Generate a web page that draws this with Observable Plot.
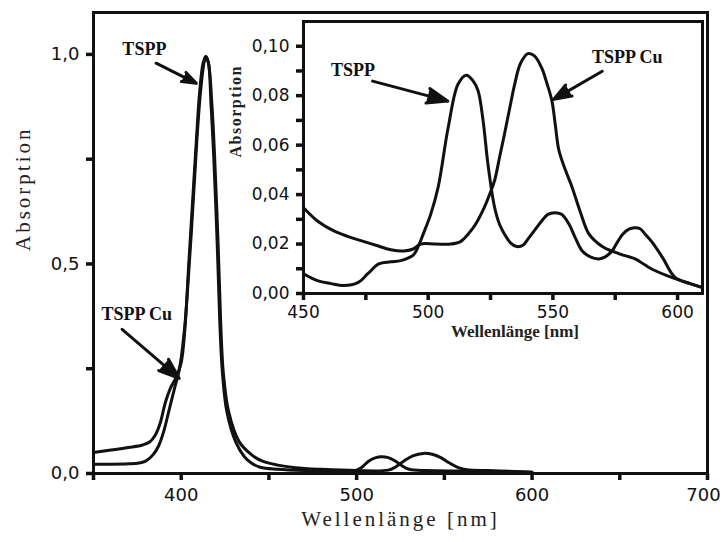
<!DOCTYPE html>
<html><head><meta charset="utf-8">
<script src="https://cdn.jsdelivr.net/npm/d3@7"></script>
<script src="https://cdn.jsdelivr.net/npm/@observablehq/plot@0.6"></script>
<style>
body{margin:0;background:#fff}
#wrap{position:relative;width:723px;height:542px;overflow:hidden}
#main{position:absolute;left:0;top:0}
#inset{position:absolute;left:215px;top:8px}
</style></head>
<body><div id="wrap"><div id="main"></div><div id="inset"></div></div>
<script>
// ---------- Main chart data ----------
const tsppMainNm  = [350,360,370,376,380,384,387,390,393,396,399,402,404.6,407,409,411,413,414,415.5,417,418.5,420.5,422,423.5,426,431,436,440,445,455,470,490,500,503,507,511,514,518,522,526,530,540,560,580,600];
const tsppMainAbs = [0.022,0.022,0.023,0.025,0.03,0.045,0.065,0.1,0.15,0.2,0.25,0.35,0.5,0.66,0.8,0.91,0.98,0.995,0.98,0.88,0.76,0.55,0.36,0.24,0.148,0.076,0.04,0.025,0.015,0.01,0.007,0.006,0.008,0.015,0.03,0.038,0.04,0.038,0.03,0.018,0.01,0.007,0.006,0.005,0.003];
const cuMainNm    = [350,360,370,378,382,385,388,391,394,397,400,402,404.3,406.5,408.7,410.5,412.5,414,415.5,417.5,419,421,422.5,424,427,433,440,446,455,465,480,500,518,522,527,532,538,543,548,553,558,563,575,590,600];
const cuMainAbs   = [0.05,0.056,0.062,0.068,0.075,0.09,0.12,0.17,0.205,0.228,0.265,0.34,0.5,0.65,0.8,0.91,0.98,0.995,0.98,0.88,0.76,0.55,0.36,0.24,0.148,0.076,0.045,0.03,0.02,0.014,0.01,0.007,0.008,0.015,0.03,0.042,0.048,0.046,0.038,0.025,0.014,0.009,0.007,0.005,0.003];
const mainXTicks = [350,400,450,500,550,600,650,700];
const mainXLabelTicks = [400,500,600];
const mainXLastTick = [700];
const mainYTicks = [0,0.25,0.5,0.75,1.0];
const mainYLabelTicks = [0,0.5,1.0];
const mainYLabels = ["0,0","0,5","1,0"];
const mainNoteText = ["TSPP","TSPP Cu"];
const mainNoteNm   = [379,374.6];
const mainNoteAbs  = [1.012,0.379];
const mainArrowFromNm  = [385.7,366.3];
const mainArrowFromAbs = [0.979,0.344];
const mainArrowToNm    = [408.6,398.9];
const mainArrowToAbs   = [0.931,0.227];

// ---------- Inset data ----------
const tsppInsetNm  = [450,455.6,461,466,471.8,475.8,480.2,485,489,494,496,498,501,504,508,512,515.3,518,520,522,524,526.6,528.6,530.6,533,535.5,538,540,543,545.6,548,550.8,553.5,556.5,559,561.7,565,568.5,571,573.8,576,578,580.5,582.7,585,587,590,594,599,605,610];
const tsppInsetAbs = [0.008,0.0052,0.004,0.0032,0.0044,0.008,0.012,0.0128,0.0133,0.0155,0.019,0.024,0.032,0.043,0.067,0.0847,0.0883,0.086,0.082,0.07,0.052,0.035,0.028,0.024,0.0205,0.019,0.0195,0.022,0.026,0.0294,0.032,0.0327,0.032,0.028,0.0225,0.0173,0.0148,0.014,0.0148,0.0173,0.021,0.024,0.026,0.0266,0.0262,0.024,0.0205,0.0145,0.0065,0.004,0.0024];
const cuInsetNm  = [450,456,462,468,473,479,485,490,494,497,503,509,513,516,519,522.6,524.6,526.6,528.6,530.6,532.7,534.7,537,540,542.7,545.6,547.6,549.6,551,552.4,555,557.7,561,564.5,569.8,574,579,583,587,590,595,599,605,610];
const cuInsetAbs = [0.0347,0.029,0.0254,0.023,0.0214,0.0195,0.0177,0.0172,0.018,0.02,0.02,0.02,0.021,0.024,0.028,0.035,0.04,0.0456,0.055,0.0645,0.075,0.0847,0.093,0.097,0.096,0.091,0.085,0.078,0.068,0.058,0.05,0.043,0.033,0.024,0.019,0.017,0.0153,0.014,0.0115,0.0097,0.0075,0.006,0.004,0.0024];
const insetXTicks = [450,475,500,525,550,575,600];
const insetXLabelTicks = [450,500,550,600];
const insetYTicks = [0,0.01,0.02,0.03,0.04,0.05,0.06,0.07,0.08,0.09,0.10];
const insetYLabelTicks = [0,0.02,0.04,0.06,0.08,0.10];
const insetYLabels = ["0,00","0,02","0,04","0,06","0,08","0,10"];
const insetNoteText = ["TSPP","TSPP Cu"];
const insetNoteNm   = [469.8,579.8];
const insetNoteAbs  = [0.0901,0.0956];
const insetArrowFromNm  = [477.7,569.8];
const insetArrowFromAbs = [0.0859,0.0899];
const insetArrowToNm    = [507.9,550.3];
const insetArrowToAbs   = [0.0778,0.0785];

const zip = (xs, ys) => xs.map((x, i) => ({x, y: ys[i]}));
const notes = (t, xs, ys) => t.map((s, i) => ({text: s, x: xs[i], y: ys[i]}));
const arrows = (x1, y1, x2, y2) => x1.map((v, i) => ({x1: v, y1: y1[i], x2: x2[i], y2: y2[i]}));
const INK = "#111";
const TICKFONT = "DejaVu Sans";
const SERIF = "Liberation Serif";
const TICKPX = 7;

// outward tick rules; the pixel length is converted through the plot geometry
function tickRules(xTicks, yTicks, xDomain, yDomain, frameW, frameH) {
  const ty = TICKPX * (yDomain[1] - yDomain[0]) / frameH;
  const tx = TICKPX * (xDomain[1] - xDomain[0]) / frameW;
  return [
    Plot.ruleX(xTicks, {x: d => d, y1: yDomain[0], y2: yDomain[0] - ty, stroke: INK, strokeWidth: 3.5}),
    Plot.ruleY(yTicks, {y: d => d, x1: xDomain[0], x2: xDomain[0] - tx, stroke: INK, strokeWidth: 3.5})
  ];
}

// ---------- Main plot ----------
const mainDomX = [350, 700], mainDomY = [0, 1.1];
const main = Plot.plot({
  width: 723, height: 542,
  marginLeft: 93, marginRight: 16, marginTop: 12, marginBottom: 69,
  x: {domain: mainDomX},
  y: {domain: mainDomY},
  style: {background: "transparent", color: INK},
  marks: [
    Plot.axisX({ticks: mainXLabelTicks, tickSize: 0, tickPadding: 15, fontSize: 18, fontFamily: TICKFONT, label: null, fill: INK}),
    Plot.axisX({ticks: mainXLastTick, tickSize: 0, tickPadding: 15, dx: -4, fontSize: 18, fontFamily: TICKFONT, label: null, fill: INK}),
    Plot.axisY({ticks: mainYLabelTicks, tickFormat: d => mainYLabels[mainYLabelTicks.indexOf(d)], tickSize: 0, tickPadding: 14,
      fontSize: 18, fontFamily: TICKFONT, label: null, fill: INK}),
    ...tickRules(mainXTicks, mainYTicks, mainDomX, mainDomY, 614, 461),
    Plot.line(zip(cuMainNm, cuMainAbs), {x: "x", y: "y", stroke: INK, strokeWidth: 3, curve: "catmull-rom"}),
    Plot.line(zip(tsppMainNm, tsppMainAbs), {x: "x", y: "y", stroke: INK, strokeWidth: 3, curve: "catmull-rom"}),
    Plot.frame({stroke: INK, strokeWidth: 3}),
    Plot.text(notes(mainNoteText, mainNoteNm, mainNoteAbs), {x: "x", y: "y", text: "text", fontFamily: SERIF, fontWeight: "bold", fontSize: 18, fill: INK}),
    Plot.arrow(arrows(mainArrowFromNm, mainArrowFromAbs, mainArrowToNm, mainArrowToAbs), {x1: "x1", y1: "y1", x2: "x2", y2: "y2", stroke: INK, strokeWidth: 3, headAngle: 40, headLength: 11}),
    Plot.text(["Wellenlänge [nm]"], {frameAnchor: "bottom", dy: 52, fontFamily: SERIF, fontSize: 21, fill: "#222"}),
    Plot.text(["Absorption"], {frameAnchor: "left", dx: -70, dy: 8, rotate: -90, fontFamily: SERIF, fontSize: 21, fill: "#222"})
  ]
});
document.getElementById("main").appendChild(main);

// ---------- Inset plot ----------
const insetDomX = [450, 610], insetDomY = [0, 0.11];
const inset = Plot.plot({
  width: 497, height: 340,
  marginLeft: 88, marginRight: 10, marginTop: 13, marginBottom: 55,
  x: {domain: insetDomX},
  y: {domain: insetDomY},
  style: {background: "transparent", color: INK},
  marks: [
    Plot.axisX({ticks: insetXLabelTicks, tickSize: 0, tickPadding: 12, fontSize: 17, fontFamily: TICKFONT, label: null, fill: INK}),
    Plot.axisY({ticks: insetYLabelTicks, tickFormat: d => insetYLabels[insetYLabelTicks.indexOf(d)], tickSize: 0, tickPadding: 14,
      fontSize: 17, fontFamily: TICKFONT, label: null, fill: INK}),
    ...tickRules(insetXTicks, insetYTicks, insetDomX, insetDomY, 399, 272),
    Plot.line(zip(cuInsetNm, cuInsetAbs), {x: "x", y: "y", stroke: INK, strokeWidth: 3, curve: "catmull-rom"}),
    Plot.line(zip(tsppInsetNm, tsppInsetAbs), {x: "x", y: "y", stroke: INK, strokeWidth: 3, curve: "catmull-rom"}),
    Plot.frame({stroke: INK, strokeWidth: 3}),
    Plot.text(notes(insetNoteText, insetNoteNm, insetNoteAbs), {x: "x", y: "y", text: "text", fontFamily: SERIF, fontWeight: "bold", fontSize: 18, fill: INK}),
    Plot.arrow(arrows(insetArrowFromNm, insetArrowFromAbs, insetArrowToNm, insetArrowToAbs), {x1: "x1", y1: "y1", x2: "x2", y2: "y2", stroke: INK, strokeWidth: 3, headAngle: 40, headLength: 11}),
    Plot.text(["Wellenlänge [nm]"], {frameAnchor: "bottom", dx: 12, dy: 43, fontFamily: SERIF, fontWeight: "bold", fontSize: 17, fill: "#222"}),
    Plot.text(["Absorption"], {frameAnchor: "left", dx: -68, rotate: -90, fontFamily: SERIF, fontWeight: "bold", fontSize: 16, fill: "#222"})
  ]
});
document.getElementById("inset").appendChild(inset);

// filled arrowheads and letter spacing
for (const svg of [main, inset]) {
  d3.select(svg).selectAll('g[aria-label="arrow"] path').attr("fill", INK).attr("stroke-linejoin", "miter");
}
d3.select(main).selectAll("text").filter(function(){ return this.textContent === "Wellenlänge [nm]" || this.textContent === "Absorption"; }).attr("letter-spacing", 3);
d3.select(inset).selectAll("text").filter(function(){ return this.textContent === "Absorption"; }).attr("letter-spacing", 1.5);
</script>
</body></html>
